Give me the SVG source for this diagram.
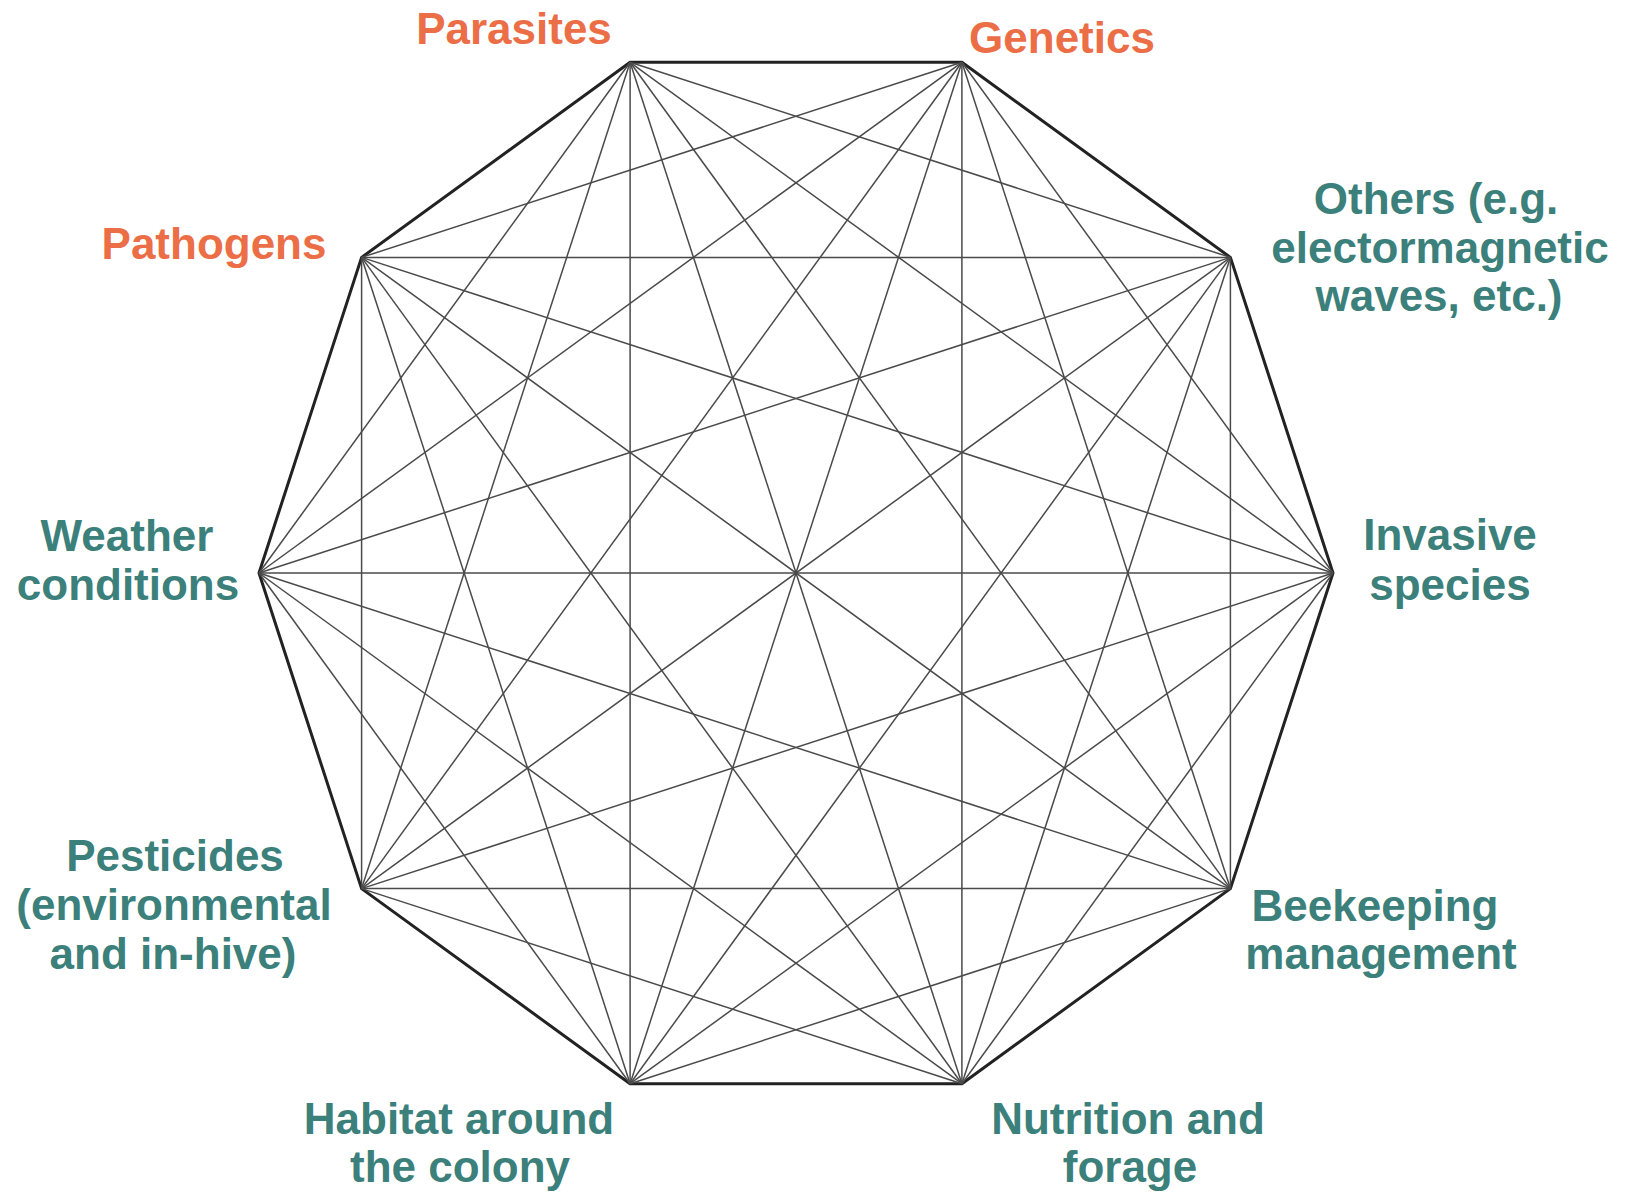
<svg xmlns="http://www.w3.org/2000/svg" width="1631" height="1192" viewBox="0 0 1631 1192">
<style>
.lbl{font-family:"Liberation Sans",Arial,sans-serif;font-weight:bold;font-size:44px;text-anchor:middle}
.or{fill:#EB6E47}
.te{fill:#3C807B}
.edge{stroke:#222;stroke-width:3;fill:none;stroke-linejoin:round}
.diag{stroke:#4a4a4a;stroke-width:1.5}
</style>
<rect width="1631" height="1192" fill="#fff"/>
<g id="connectors">
<polygon class="edge" points="1333,573 1230.4,257.4 961.9,62.3 630.1,62.3 361.6,257.4 259,573 361.6,888.6 630.1,1083.7 961.9,1083.7 1230.4,888.6"/>
<g class="diag">
<line x1="1333" y1="573" x2="961.9" y2="62.3"/>
<line x1="1333" y1="573" x2="630.1" y2="62.3"/>
<line x1="1333" y1="573" x2="361.6" y2="257.4"/>
<line x1="1333" y1="573" x2="259" y2="573"/>
<line x1="1333" y1="573" x2="361.6" y2="888.6"/>
<line x1="1333" y1="573" x2="630.1" y2="1083.7"/>
<line x1="1333" y1="573" x2="961.9" y2="1083.7"/>
<line x1="1230.4" y1="257.4" x2="630.1" y2="62.3"/>
<line x1="1230.4" y1="257.4" x2="361.6" y2="257.4"/>
<line x1="1230.4" y1="257.4" x2="259" y2="573"/>
<line x1="1230.4" y1="257.4" x2="361.6" y2="888.6"/>
<line x1="1230.4" y1="257.4" x2="630.1" y2="1083.7"/>
<line x1="1230.4" y1="257.4" x2="961.9" y2="1083.7"/>
<line x1="1230.4" y1="257.4" x2="1230.4" y2="888.6"/>
<line x1="961.9" y1="62.3" x2="361.6" y2="257.4"/>
<line x1="961.9" y1="62.3" x2="259" y2="573"/>
<line x1="961.9" y1="62.3" x2="361.6" y2="888.6"/>
<line x1="961.9" y1="62.3" x2="630.1" y2="1083.7"/>
<line x1="961.9" y1="62.3" x2="961.9" y2="1083.7"/>
<line x1="961.9" y1="62.3" x2="1230.4" y2="888.6"/>
<line x1="630.1" y1="62.3" x2="259" y2="573"/>
<line x1="630.1" y1="62.3" x2="361.6" y2="888.6"/>
<line x1="630.1" y1="62.3" x2="630.1" y2="1083.7"/>
<line x1="630.1" y1="62.3" x2="961.9" y2="1083.7"/>
<line x1="630.1" y1="62.3" x2="1230.4" y2="888.6"/>
<line x1="361.6" y1="257.4" x2="361.6" y2="888.6"/>
<line x1="361.6" y1="257.4" x2="630.1" y2="1083.7"/>
<line x1="361.6" y1="257.4" x2="961.9" y2="1083.7"/>
<line x1="361.6" y1="257.4" x2="1230.4" y2="888.6"/>
<line x1="259" y1="573" x2="630.1" y2="1083.7"/>
<line x1="259" y1="573" x2="961.9" y2="1083.7"/>
<line x1="259" y1="573" x2="1230.4" y2="888.6"/>
<line x1="361.6" y1="888.6" x2="961.9" y2="1083.7"/>
<line x1="361.6" y1="888.6" x2="1230.4" y2="888.6"/>
<line x1="630.1" y1="1083.7" x2="1230.4" y2="888.6"/>
</g>
</g>
<g id="node-parasites"><text class="lbl or" x="514" y="44">Parasites</text></g>
<g id="node-genetics"><text class="lbl or" x="1062" y="53">Genetics</text></g>
<g id="node-others"><text class="lbl te" x="1436" y="214">Others (e.g.</text><text class="lbl te" x="1440" y="263">electormagnetic</text><text class="lbl te" x="1439" y="311">waves, etc.)</text></g>
<g id="node-pathogens"><text class="lbl or" x="214" y="259">Pathogens</text></g>
<g id="node-weather"><text class="lbl te" x="127" y="551">Weather</text><text class="lbl te" x="128" y="600">conditions</text></g>
<g id="node-invasive"><text class="lbl te" x="1450" y="550">Invasive</text><text class="lbl te" x="1450" y="600">species</text></g>
<g id="node-pesticides"><text class="lbl te" x="175" y="871">Pesticides</text><text class="lbl te" x="174" y="920">(environmental</text><text class="lbl te" x="173" y="969">and in-hive)</text></g>
<g id="node-beekeeping"><text class="lbl te" x="1375" y="921">Beekeeping</text><text class="lbl te" x="1381" y="969">management</text></g>
<g id="node-habitat"><text class="lbl te" x="459" y="1134">Habitat around</text><text class="lbl te" x="460" y="1182">the colony</text></g>
<g id="node-nutrition"><text class="lbl te" x="1128" y="1134">Nutrition and</text><text class="lbl te" x="1130" y="1182">forage</text></g>
</svg>
